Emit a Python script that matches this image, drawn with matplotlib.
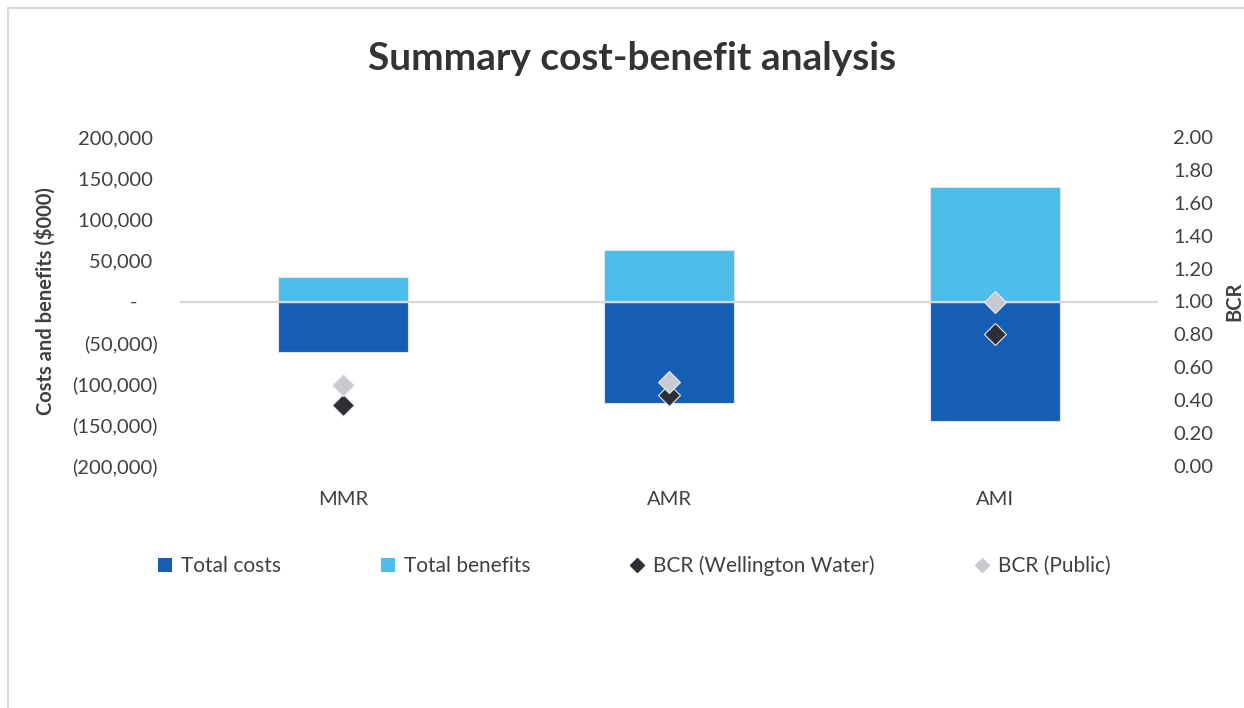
import matplotlib.pyplot as plt
from matplotlib.lines import Line2D
from matplotlib.patches import Patch, Rectangle
import numpy as np

categories = ['MMR', 'AMR', 'AMI']
total_costs = [-62000, -123000, -145000]
total_benefits = [30000, 63000, 139000]
bcr_ww = [0.37, 0.43, 0.80]
bcr_public = [0.49, 0.51, 1.00]

left_ticks = [200000, 150000, 100000, 50000, 0, -50000, -100000, -150000, -200000]
right_ticks = [0.0, 0.2, 0.4, 0.6, 0.8, 1.0, 1.2, 1.4, 1.6, 1.8, 2.0]

c_costs = '#165DB4'
c_benefits = '#4DBEEA'
c_ww = '#2E2E36'
c_public = '#C9C9D1'
txt = '#404040'

plt.rcParams['font.family'] = ['Lato', 'DejaVu Sans']


def acct(v):
    if v == 0:
        return '-    '
    if v < 0:
        return '({:,.0f})'.format(-v)
    return '{:,.0f} '.format(v)


fig = plt.figure(figsize=(12.44, 7.08), dpi=100)
ax = fig.add_axes([180 / 1244, 1 - 466 / 708, 978 / 1244, 329 / 708])
ax2 = ax.twinx()

x = np.arange(len(categories))
ax.bar(x, total_costs, width=0.4, color=c_costs, edgecolor='#DCE6F2', linewidth=0.8, zorder=2)
ax.bar(x, total_benefits, width=0.4, color=c_benefits, edgecolor='#DCE6F2', linewidth=0.8, zorder=2)
ax.axhline(0, color='#D9D9D9', lw=1.6, zorder=3)

ax2.plot(x, bcr_ww, 'D', ms=11, color=c_ww, mec='#E8E8EE', mew=0.8, ls='none', zorder=4)
ax2.plot(x, bcr_public, 'D', ms=11, color=c_public, mec='#E8E8EE', mew=0.8, ls='none', zorder=5)

ax.set_xlim(-0.5, 2.5)
ax.set_ylim(-200000, 200000)
ax.set_yticks(left_ticks)
ax.set_yticklabels([acct(v) for v in left_ticks])
ax.set_xticks(x)
ax.set_xticklabels(categories)
ax2.set_ylim(0, 2.0)
ax2.set_yticks(right_ticks)
ax2.set_yticklabels(['{:.2f}'.format(v) for v in right_ticks])

for a in (ax, ax2):
    for s in a.spines.values():
        s.set_visible(False)
ax.tick_params(axis='y', length=0, pad=16, labelsize=14.5, labelcolor=txt)
ax.tick_params(axis='x', length=0, pad=18, labelsize=14.5, labelcolor=txt)
ax2.tick_params(axis='y', length=0, pad=11, labelsize=14.5, labelcolor=txt)

ax.set_ylabel('Costs and benefits ($000)', fontsize=14.5, fontweight='bold', color=txt, labelpad=12)
fig.text(1224 / 1244, 1 - 301 / 708, 'BCR', rotation=90, fontsize=14.5, fontweight='bold',
         color=txt, ha='left', va='center')

fig.text(632 / 1244, 1 - 58 / 708, 'Summary cost-benefit analysis', fontsize=28,
         fontweight='bold', color='#333333', ha='center', va='center')

handles = [
    Patch(facecolor=c_costs, edgecolor='none'),
    Patch(facecolor=c_benefits, edgecolor='none'),
    Line2D([], [], marker='D', ls='none', color=c_ww, ms=7),
    Line2D([], [], marker='D', ls='none', color=c_public, ms=7),
]
labels = ['Total costs', 'Total benefits', 'BCR (Wellington Water)', 'BCR (Public)']
fig.legend(handles, labels, loc='center', bbox_to_anchor=(634 / 1244, 1 - 566 / 708), ncol=4,
           frameon=False, fontsize=15, handlelength=0.7, handleheight=0.7, handletextpad=0.4,
           columnspacing=4.8, labelcolor=txt)

fig.patches.append(Rectangle((8 / 1244, -0.1), 1.2, 1 - 8 / 708 + 0.1, transform=fig.transFigure,
                             fill=False, edgecolor='#D9D9D9', lw=1.5))

fig.savefig('out.png', dpi=100)
